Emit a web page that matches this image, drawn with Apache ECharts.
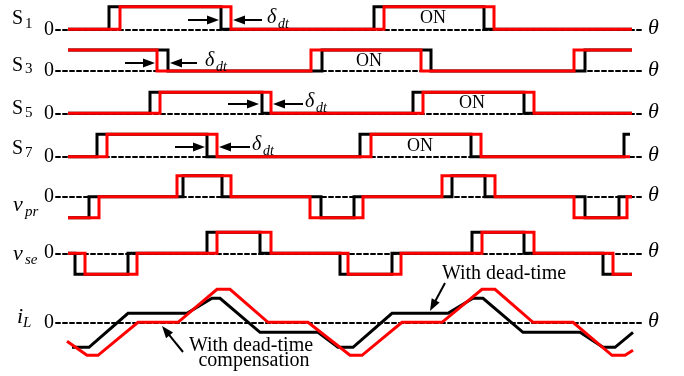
<!DOCTYPE html>
<html><head><meta charset="utf-8">
<script src="https://cdn.jsdelivr.net/npm/echarts@6/dist/echarts.min.js"></script>
<style>html,body{margin:0;padding:0;background:#fff}#c{width:684px;height:376px}</style>
</head><body><div id="c"></div>
<script>
// ---- data: x = angular position θ (chart units), y = level ----
const thetaRange = [56, 642];
// switching signals (0 = off, 1 = on), step holds each level until next point
const s1Black = [[68,0],[109,1],[221,0],[374,1],[484,0],[632,0]];
const s1Red   = [[68,0],[120,1],[231,0],[384,1],[494,0],[632,0]];
const s3Black = [[68,1],[168,0],[322,1],[431,0],[585,1],[632,1]];
const s3Red   = [[68,1],[157,0],[311,1],[421,0],[574,1],[632,1]];
const s5Black = [[68,0],[150,1],[262,0],[413,1],[524,0],[632,0]];
const s5Red   = [[68,0],[160,1],[271,0],[423,1],[534,0],[632,0]];
const s7Black = [[68,0],[97,1],[207,0],[360,1],[471,0],[624,1],[630,1]];
const s7Red   = [[68,0],[107,1],[217,0],[371,1],[481,0],[630,0]];
// bridge voltages (-1, 0, 1)
const vprBlack = [[68,-1],[89,0],[183,1],[222,0],[321,-1],[354,0],[452,1],[485,0],[585,-1],[619,0],[632,0]];
const vprRed   = [[68,-1],[99,0],[177,1],[231,0],[310,-1],[363,0],[442,1],[495,0],[574,-1],[627,0],[632,0]];
const vseBlack = [[68,0],[75,-1],[128,0],[207,1],[260,0],[340,-1],[392,0],[472,1],[524,0],[603,-1],[632,-1]];
const vseRed   = [[68,0],[85,-1],[137,0],[217,1],[271,0],[348,-1],[401,0],[482,1],[534,0],[613,-1],[632,-1]];
// inductor current (relative units)
const iLBlack = [[72,-25],[89,-25],[128,9],[187,9],[212,24],[220,24],[260,-10],[318,-10],[338,-25],[353,-25],[392,9],[448,9],[473,24],[483,24],[523,-10],[580,-10],[603,-25],[615,-25],[633,-10]];
const iLRed   = [[67,-19],[87,-33],[98,-33],[138,0],[178,0],[217,33],[230,33],[268,0],[308,0],[350,-33],[362,-33],[402,0],[442,0],[482,33],[495,33],[533,0],[573,0],[612,-33],[625,-33],[633,-28]];

const rowLabels = ['S','S','S','S','v','v','i'];
const rowSubs   = ['1','3','5','7','pr','se','L'];
const onText = 'ON';
const dtMain = 'δ', dtSub = 'dt';
const thetaText = 'θ';
const noteComp = ['With dead-time','compensation'];
const noteDT = 'With dead-time';

// ---- layout ----
const rows = [
  {top:6.7,  h:22.6, min:0,  max:1,  black:s1Black, red:s1Red, step:true},
  {top:50,   h:21,   min:0,  max:1,  black:s3Black, red:s3Red, step:true},
  {top:92.3, h:21,   min:0,  max:1,  black:s5Black, red:s5Red, step:true},
  {top:134.3,h:22.4, min:0,  max:1,  black:s7Black, red:s7Red, step:true},
  {top:175.7,h:42,   min:-1, max:1,  black:vprBlack, red:vprRed, step:true},
  {top:232.3,h:42,   min:-1, max:1,  black:vseBlack, red:vseRed, step:true},
  {top:287.3,h:70,   min:-35,max:35, black:iLBlack, red:iLRed, step:false}
];
const zeroY = [29.3,71,113.3,156.7,196.7,252.7,322.3];

const grid=[], xAxis=[], yAxis=[], series=[];
rows.forEach((r,i)=>{
  grid.push({left:thetaRange[0], right:684-thetaRange[1], top:r.top, height:r.h});
  xAxis.push({type:'value', gridIndex:i, min:thetaRange[0], max:thetaRange[1],
    axisLine:{show:true, onZero:true, lineStyle:{color:'#000', width:2, type:[4,3]}},
    axisTick:{show:false}, axisLabel:{show:false}, splitLine:{show:false}});
  yAxis.push({type:'value', gridIndex:i, min:r.min, max:r.max,
    axisLine:{show:false}, axisTick:{show:false}, axisLabel:{show:false}, splitLine:{show:false}});
  [['#000',r.black,3],['#ff0000',r.red,4]].forEach(([c,d,z])=>{
    series.push({type:'line', xAxisIndex:i, yAxisIndex:i, data:d, step:r.step?'end':false,
      showSymbol:false, symbol:'none', clip:false, silent:true, z:z,
      lineStyle:{color:c, width:3, join:'miter', cap:'butt'}});
  });
});

const FONT = '"Liberation Serif","Times New Roman",serif';
function txt(x,y,t,size,italic,align){
  return {type:'text', x:x, y:y, z:20, silent:true,
    style:{text:t, font:(italic?'italic ':'')+size+'px '+FONT, fill:'#000',
      align:align||'left', verticalAlign:'middle'}};
}
function arrow(x1,y1,x2,y2){
  const hl=12, hw=4.5;
  const dx=x2-x1, dy=y2-y1, L=Math.hypot(dx,dy), ux=dx/L, uy=dy/L;
  const bx=x2-ux*hl, by=y2-uy*hl;
  return [
    {type:'line', z:20, silent:true, shape:{x1:x1,y1:y1,x2:bx+ux,y2:by+uy}, style:{stroke:'#000', lineWidth:2}},
    {type:'polygon', z:20, silent:true, shape:{points:[[x2,y2],[bx-uy*hw,by+ux*hw],[bx+uy*hw,by-ux*hw]]}, style:{fill:'#000'}}
  ];
}

const g=[];
// row labels
const labMain=[[12,18.5],[12,65.5],[12,108.5],[12,148.5],[13,205.5],[13,254.5],[17,317.5]];
const labSub =[[25,23.7],[25,68.7],[25,113],[25,153],[25,212],[25,260],[23,322.7]];
rowLabels.forEach((t,i)=>{
  const it = i>=4;
  g.push(txt(labMain[i][0],labMain[i][1],t, it?22:20, it));
  g.push(txt(labSub[i][0],labSub[i][1],rowSubs[i], it?15:15, it));
});
// zero labels and theta labels
zeroY.forEach(y=>{
  g.push(txt(54,y,'0',20,false,'right'));
  g.push(txt(648,y-1,thetaText,22,true,'left'));
});
// ON labels
[[433,18.5],[369,61],[472,103.5],[420,146]].forEach(p=>g.push(txt(p[0],p[1],onText,18,false,'center')));
// dead-time marks
[[267,18,20,188,219,262,233],[205,61,63,125,155,197,170],[305,102,104,228,259,303,273],[252,145,147,175,205,250,219]].forEach(a=>{
  g.push(txt(a[0],a[1],dtMain,20,true));
  g.push(txt(a[0]+11,a[1]+6,dtSub,14,true));
  g.push(...arrow(a[3],a[2],a[4],a[2]));
  g.push(...arrow(a[5],a[2],a[6],a[2]));
});
// annotations
g.push(txt(504,273.5,noteDT,20,false,'center'));
g.push(...arrow(445,283,430,311));
g.push(txt(251,345.5,noteComp[0],20,false,'center'));
g.push(txt(254,361,noteComp[1],20,false,'center'));
g.push(...arrow(183,352,162,326));

const chart = echarts.init(document.getElementById('c'), null, {renderer:'canvas'});
chart.setOption({animation:false, backgroundColor:'#fff', grid, xAxis, yAxis, series, graphic:g});
</script></body></html>
